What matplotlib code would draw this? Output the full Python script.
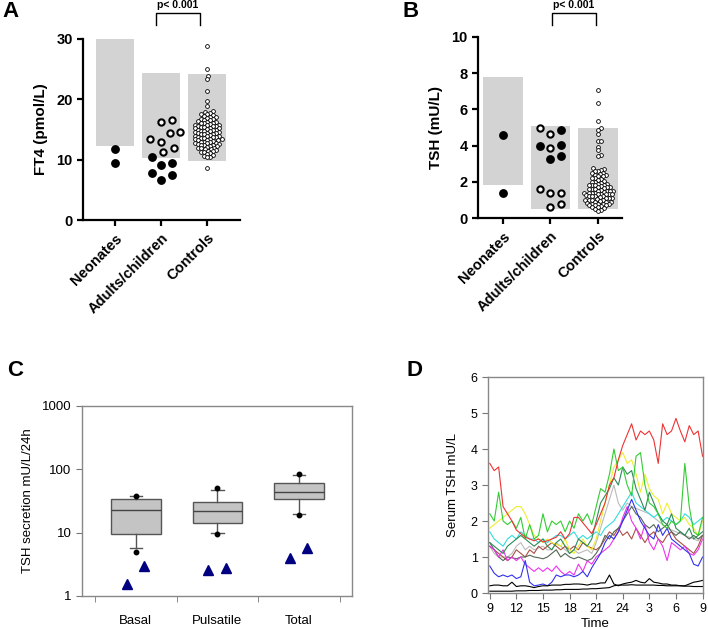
import numpy as np
import matplotlib
matplotlib.use("Agg")
import matplotlib.pyplot as plt
from matplotlib.lines import Line2D

plt.rcParams['font.family'] = ['Liberation Sans', 'DejaVu Sans']

W, H = 708, 629

# ---------------- data ----------------
groups = ["Neonates", "Adults/children", "Controls"]

# Panel A : FT4 (pmol/L)
ft4_ref_low = [12.3, 10.2, 9.8]
ft4_ref_high = [30.0, 24.4, 24.2]
ft4_neonates_filled = [11.7, 9.4]
ft4_adults_filled = [10.4, 9.4, 9.1, 7.8, 7.5, 6.6]
ft4_adults_open = [16.3, 16.6, 14.4, 13.0, 13.4, 14.6, 11.2, 12.0]
ft4_controls = [28.9, 25.0, 23.8, 23.3, 21.3, 19.7, 18.9, 18.1, 17.9, 17.8,
                17.6, 17.5, 17.4, 17.2, 17.1, 17.0, 16.9, 16.8, 16.7, 16.6,
                16.5, 16.4, 16.3, 16.2, 16.1, 16.0, 16.0, 15.9, 15.8, 15.8,
                15.7, 15.6, 15.6, 15.5, 15.4, 15.4, 15.3, 15.2, 15.2, 15.1,
                15.0, 15.0, 14.9, 14.8, 14.8, 14.7, 14.6, 14.6, 14.5, 14.4,
                14.4, 14.3, 14.2, 14.2, 14.1, 14.0, 14.0, 13.9, 13.8, 13.8,
                13.7, 13.6, 13.6, 13.5, 13.4, 13.4, 13.3, 13.2, 13.2, 13.1,
                13.0, 13.0, 12.9, 12.8, 12.8, 12.7, 12.6, 12.6, 12.5, 12.4,
                12.4, 12.3, 12.2, 12.1, 12.0, 12.0, 11.9, 11.8, 11.7, 11.6,
                11.5, 11.4, 11.3, 11.2, 11.1, 11.0, 10.8, 10.6, 10.5, 10.4, 8.7]

# Panel B : TSH (mU/L)
tsh_ref_low = [1.8, 0.5, 0.5]
tsh_ref_high = [7.8, 5.1, 5.0]
tsh_neonates_filled = [4.6, 1.4]
tsh_adults_filled = [4.85, 4.05, 4.0, 3.45, 3.25]
tsh_adults_open = [4.95, 4.64, 3.85, 1.4, 1.4, 1.6, 0.6, 0.8]
tsh_controls = [7.05, 6.35, 5.35, 4.95, 4.85, 4.65, 4.25, 4.25, 3.95, 3.75,
                3.5, 3.45, 2.75, 2.7, 2.65, 2.6, 2.6, 2.5, 2.5, 2.45,
                2.4, 2.35, 2.3, 2.3, 2.2, 2.2, 2.15, 2.1, 2.05, 2.0,
                2.0, 1.95, 1.9, 1.9, 1.85, 1.8, 1.8, 1.8, 1.75, 1.7,
                1.7, 1.7, 1.65, 1.6, 1.6, 1.6, 1.55, 1.5, 1.5, 1.5,
                1.5, 1.45, 1.4, 1.4, 1.4, 1.4, 1.35, 1.3, 1.3, 1.3,
                1.3, 1.25, 1.2, 1.2, 1.2, 1.2, 1.15, 1.1, 1.1, 1.1,
                1.05, 1.0, 1.0, 1.0, 1.0, 0.95, 0.9, 0.9, 0.9, 0.85,
                0.8, 0.8, 0.8, 0.75, 0.7, 0.7, 0.7, 0.65, 0.6, 0.6,
                0.55, 0.5, 0.45, 0.4]

# Panel C : TSH secretion (box stats of controls + two patients)
c_labels = ["Basal", "Pulsatile", "Total"]
c_med = [23.1, 22.3, 44.4]
c_q1 = [9.4, 14.4, 33.6]
c_q3 = [34.4, 30.9, 61.6]
c_wlo = [5.7, 9.9, 19.7]
c_whi = [37.5, 47.7, 82.4]
c_p95 = [37.5, 50.7, 85.5]
c_p5 = [4.95, 9.5, 19.2]
c_patient1 = [1.53, 2.6, 4.03]
c_patient2 = [3.0, 2.8, 5.8]

# Panel D : 24h TSH profiles (every 30 min from 09:00 to 09:00)
d_tick_labels = ['9', '12', '15', '18', '21', '24', '3', '6', '9']
d_red = [3.6, 3.4, 3.5, 2.4, 2.2, 2.0, 1.75, 1.65, 1.55, 1.5,
         1.45, 1.5, 1.42, 1.45, 1.5, 1.55, 1.7, 1.5, 1.65, 2.1,
         2.1, 1.95, 1.8, 1.65, 1.9, 2.2, 2.5, 3.0, 3.2, 3.7,
         4.1, 4.4, 4.7, 4.25, 4.5, 4.4, 4.5, 4.25, 3.6, 4.7,
         4.4, 4.5, 4.85, 4.5, 4.2, 4.65, 4.4, 4.5, 3.8]
d_green = [2.2, 2.0, 2.8, 2.0, 1.9, 2.0, 1.8, 2.1, 1.5, 1.9,
           1.5, 1.6, 2.2, 1.7, 2.0, 1.9, 2.0, 1.7, 2.0, 1.8,
           2.2, 2.0, 2.2, 1.9, 2.4, 2.9, 2.8, 3.3, 4.0, 3.4,
           3.5, 3.0, 2.7, 3.8, 3.9, 3.0, 2.5, 2.4, 2.2, 1.9,
           1.8, 2.0, 1.9, 2.0, 3.6, 2.4, 1.7, 1.6, 2.1]
d_yellow = [1.8, 1.9, 2.0, 2.1, 2.2, 2.3, 2.4, 2.4, 2.2, 1.9,
            1.6, 1.5, 1.4, 1.5, 1.4, 1.35, 1.3, 1.5, 1.2, 1.1,
            1.3, 1.5, 1.3, 1.2, 1.5, 2.0, 2.5, 3.0, 3.5, 3.7,
            3.9, 3.6, 3.7, 3.3, 2.8, 3.3, 2.9, 2.7, 2.6, 2.2,
            2.5, 2.2, 2.1, 2.0, 2.1, 1.9, 1.8, 1.6, 2.0]
d_darkgreen = [1.4, 1.3, 1.2, 1.1, 1.3, 1.4, 1.5, 1.6, 1.5, 1.4,
               1.3, 1.4, 1.5, 1.3, 1.2, 1.4, 1.5, 1.3, 1.1, 1.2,
               1.5, 1.4, 1.3, 1.5, 2.0, 2.5, 2.7, 2.9, 3.2, 3.0,
               3.5, 3.3, 3.4, 2.9, 2.6, 2.3, 2.8, 2.5, 2.2, 2.0,
               1.9, 2.2, 1.8, 1.7, 1.6, 1.8, 1.5, 1.6, 1.7]
d_cyan = [1.7, 1.5, 1.4, 1.3, 1.5, 1.6, 1.5, 1.7, 1.6, 1.5,
          1.5, 1.4, 1.5, 1.4, 1.5, 1.6, 1.6, 1.5, 1.6, 1.7,
          1.5, 1.6, 1.5, 1.6, 1.7, 1.6, 1.8, 1.9, 2.0, 2.2,
          2.4, 2.6, 2.8, 2.5, 2.4, 2.3, 2.2, 2.1, 2.2, 2.0,
          2.1, 2.0, 1.9, 2.0, 2.2, 2.1, 1.9, 2.0, 2.1]
d_silver = [1.3, 1.1, 1.0, 1.0, 1.0, 1.1, 1.3, 1.4, 1.2, 1.3,
            1.2, 1.25, 1.3, 1.2, 1.2, 1.4, 1.3, 1.2, 1.1, 1.2,
            1.1, 1.15, 1.2, 1.1, 1.4, 1.8, 2.2, 2.6, 3.0, 2.5,
            2.3, 2.5, 2.4, 2.35, 2.3, 2.25, 2.2, 2.1, 2.0, 1.9,
            1.8, 1.75, 1.7, 1.65, 1.6, 1.55, 1.5, 1.45, 1.6]
d_brown = [1.3, 1.2, 1.1, 1.0, 0.9, 1.0, 1.2, 1.1, 1.0, 1.2,
           1.1, 1.3, 1.2, 1.3, 1.4, 1.3, 1.2, 1.3, 1.2, 1.3,
           1.2, 1.4, 1.3, 1.25, 1.2, 1.3, 1.5, 1.7, 1.6, 1.8,
           1.6, 1.7, 1.5, 1.8, 1.6, 1.4, 1.6, 1.7, 1.5, 1.4,
           1.6, 1.7, 1.5, 1.4, 1.3, 1.2, 1.1, 1.3, 1.6]
d_darkgray = [1.4, 1.2, 1.0, 0.9, 1.0, 0.98, 0.95, 1.0, 1.0, 1.05,
              1.0, 0.98, 0.95, 1.0, 1.1, 1.2, 1.0, 1.1, 1.0, 0.95,
              1.0, 0.95, 0.9, 0.95, 1.1, 1.3, 1.6, 1.5, 1.7, 1.8,
              2.0, 2.2, 2.4, 2.2, 2.1, 1.9, 1.8, 1.9, 1.7, 1.8,
              1.9, 1.7, 1.6, 1.7, 1.6, 1.5, 1.6, 1.5, 1.6]
d_magenta = [1.3, 1.2, 1.0, 1.2, 0.9, 1.0, 0.9, 1.0, 0.8, 0.7,
             0.6, 0.7, 0.6, 0.7, 0.6, 0.75, 0.6, 0.5, 0.6, 0.5,
             0.8, 0.6, 0.9, 0.8, 1.0, 1.1, 1.2, 1.3, 1.5, 1.7,
             2.1, 2.4, 2.0, 1.8, 1.5, 1.9, 1.4, 1.2, 1.5, 1.3,
             0.9, 1.4, 1.3, 1.2, 1.3, 1.1, 1.05, 1.2, 1.5]
d_blue = [0.75, 0.55, 0.45, 0.5, 0.45, 0.5, 0.4, 0.45, 0.9, 0.3,
          0.2, 0.22, 0.25, 0.2, 0.3, 0.5, 0.45, 0.5, 0.5, 0.45,
          0.5, 0.6, 0.45, 0.7, 0.9, 1.1, 1.4, 1.6, 1.5, 1.7,
          2.0, 2.3, 2.6, 2.3, 2.0, 1.8, 1.6, 1.5, 1.9, 1.6,
          1.8, 1.5, 1.4, 1.3, 1.2, 1.1, 0.8, 0.75, 1.0]
d_black1 = [0.2, 0.22, 0.22, 0.2, 0.2, 0.3, 0.18, 0.2, 0.2, 0.18,
            0.15, 0.18, 0.2, 0.2, 0.22, 0.22, 0.22, 0.24, 0.24, 0.25,
            0.25, 0.24, 0.22, 0.25, 0.25, 0.28, 0.28, 0.5, 0.25, 0.2,
            0.25, 0.28, 0.3, 0.35, 0.3, 0.28, 0.4, 0.3, 0.28, 0.25,
            0.25, 0.22, 0.22, 0.2, 0.2, 0.25, 0.3, 0.32, 0.35]
d_black2 = [0.05, 0.05, 0.05, 0.05, 0.05, 0.05, 0.06, 0.06, 0.06, 0.07,
            0.07, 0.07, 0.08, 0.08, 0.08, 0.09, 0.09, 0.1, 0.1, 0.1,
            0.1, 0.11, 0.11, 0.12, 0.12, 0.13, 0.14, 0.15, 0.2, 0.22,
            0.22, 0.22, 0.23, 0.22, 0.22, 0.22, 0.22, 0.22, 0.21, 0.21,
            0.2, 0.2, 0.2, 0.2, 0.19, 0.19, 0.18, 0.18, 0.18]

# ---------------- helpers ----------------
fig = plt.figure(figsize=(W / 100, H / 100), dpi=100)


def px_axes(left, top, right, bottom):
    return fig.add_axes([left / W, 1 - bottom / H, (right - left) / W, (bottom - top) / H])


def fx(x):
    return x / W


def fy(y):
    return 1 - y / H


def swarm(ax, xc, values, diam):
    """Beeswarm layout computed in display space; returns x data positions."""
    trans = ax.transData
    inv = trans.inverted()
    x0 = trans.transform((xc, 0))[0]
    ys = np.array([trans.transform((xc, v))[1] for v in values])
    order = np.argsort(ys)
    placed = []
    xs = np.zeros(len(values))
    step = diam * 0.2
    cands = [0.0]
    for k in range(1, 400):
        cands += [k * step, -k * step]
    for i in order:
        y = ys[i]
        for c in cands:
            ok = True
            for (px_, py_) in placed:
                if (c - px_) ** 2 + (y - py_) ** 2 < diam ** 2:
                    ok = False
                    break
            if ok:
                break
        xs[i] = c
        placed.append((c, y))
    return np.array([inv.transform((x0 + xs[i], ys[i]))[0] for i in range(len(values))])


def prism_axes(ax, ylim, yticks, ylabel, xlim):
    ax.set_xlim(*xlim)
    ax.set_ylim(*ylim)
    for s in ['top', 'right']:
        ax.spines[s].set_visible(False)
    for s in ['left', 'bottom']:
        ax.spines[s].set_linewidth(1.6)
    ax.set_yticks(yticks)
    ax.set_xticks(range(3))
    ax.set_xticklabels(groups, rotation=45, ha='right', rotation_mode='anchor',
                       fontsize=10, fontweight='bold')
    ax.tick_params(width=1.6, length=4, labelsize=10.5)
    ax.tick_params(axis='x', pad=4)
    for lab in ax.get_yticklabels():
        lab.set_fontweight('bold')
    ax.set_ylabel(ylabel, fontsize=11, fontweight='bold', labelpad=6)
    ax.patch.set_alpha(0)


def draw_group_panel(ax, low, high, neo_f, ad_f, ad_o, ctrl, big, small):
    ax.bar(range(3), np.array(high) - np.array(low), bottom=low, width=0.83,
           color='#D3D3D3', zorder=1)
    ms_big = big * 72 / 100
    ms_small = small * 72 / 100
    xn = swarm(ax, 0, neo_f, big)
    ax.plot(xn, neo_f, 'o', ms=ms_big, mfc='black', mec='black', zorder=3, clip_on=False)
    ad_all = list(ad_f) + list(ad_o)
    xa = swarm(ax, 1, ad_all, big * 1.45)
    nf = len(ad_f)
    ax.plot(xa[:nf], ad_f, 'o', ms=ms_big, mfc='black', mec='black', zorder=3, clip_on=False)
    ax.plot(xa[nf:], ad_o, 'o', ms=ms_big - 0.8, mfc='white', mec='black', mew=1.5,
            zorder=3, clip_on=False)
    xc = swarm(ax, 2, ctrl, small * 0.8)
    ax.plot(xc, ctrl, 'o', ms=ms_small, mfc='white', mec='black', mew=0.6,
            zorder=3, clip_on=False)


def bracket(x1, x2, ytop, ybot, tx, ty):
    fig.add_artist(Line2D([fx(x1), fx(x1), fx(x2), fx(x2)],
                          [fy(ybot), fy(ytop), fy(ytop), fy(ybot)],
                          color='black', lw=1.0))
    fig.text(fx(tx), fy(ty), 'p< 0.001', ha='center', va='center',
             fontsize=7.5, fontweight='bold')


# ---------------- Panel A ----------------
axA = px_axes(83, 39, 240, 220)
prism_axes(axA, (0, 30), [0, 10, 20, 30], 'FT4 (pmol/L)', (-0.70, 2.72))
draw_group_panel(axA, ft4_ref_low, ft4_ref_high, ft4_neonates_filled,
                 ft4_adults_filled, ft4_adults_open, ft4_controls, 7.4, 3.8)
bracket(156, 200, 13, 25, 178, 5)
fig.text(fx(2), fy(1), 'A', fontsize=16, fontweight='bold', va='top', ha='left')

# ---------------- Panel B ----------------
axB = px_axes(478, 37, 622, 218)
prism_axes(axB, (0, 10), [0, 2, 4, 6, 8, 10], 'TSH (mU/L)', (-0.53, 2.51))
draw_group_panel(axB, tsh_ref_low, tsh_ref_high, tsh_neonates_filled,
                 tsh_adults_filled, tsh_adults_open, tsh_controls, 7.4, 3.8)
bracket(552, 596, 13, 25, 574, 5)
fig.text(fx(403), fy(1), 'B', fontsize=16, fontweight='bold', va='top', ha='left')

# ---------------- Panel C ----------------
axC = px_axes(82, 406, 352, 596)
axC.set_yscale('log')
axC.set_ylim(1, 1000)
axC.set_xlim(0.34, 3.65)
stats = []
for i in range(3):
    stats.append(dict(med=c_med[i], q1=c_q1[i], q3=c_q3[i], whislo=c_wlo[i],
                      whishi=c_whi[i], fliers=[c_p95[i], c_p5[i]], label=c_labels[i]))
axC.bxp(stats, positions=[1, 2, 3], widths=0.61, capwidths=0.15, patch_artist=True,
        boxprops=dict(facecolor='#C4C4C4', edgecolor='#555555', linewidth=1.0),
        medianprops=dict(color='#444444', linewidth=1.0),
        whiskerprops=dict(color='#555555', linewidth=1.0),
        capprops=dict(color='#555555', linewidth=1.0),
        flierprops=dict(marker='o', markerfacecolor='black', markeredgecolor='black',
                        markersize=3.2))
pos = np.arange(1, 4)
axC.plot(pos - 0.11, c_patient1, '^', ms=6.5, color='#000080', clip_on=False)
axC.plot(pos + 0.10, c_patient2, '^', ms=6.5, color='#000080', clip_on=False)
axC.set_xticks([1, 2, 3])
axC.set_xticklabels(c_labels, fontsize=9.5)
axC.set_xticks([0.5, 1.5, 2.5, 3.5], minor=True)
axC.tick_params(axis='x', which='major', length=0, pad=14)
axC.tick_params(axis='x', which='minor', length=4, color='#777777')
axC.tick_params(axis='y', which='minor', length=0)
axC.tick_params(axis='y', which='major', length=4, color='#777777', labelsize=9.5)
axC.set_yticks([1, 10, 100, 1000])
axC.set_yticklabels(['1', '10', '100', '1000'])
axC.set_ylabel('TSH secretion mU/L/24h', fontsize=9.5, labelpad=6)
for s in axC.spines.values():
    s.set_color('#888888')
    s.set_linewidth(1.0)
fig.text(fx(7), fy(360), 'C', fontsize=16, fontweight='bold', va='top', ha='left')

# ---------------- Panel D ----------------
axD = px_axes(488, 377, 703, 593)
t = 9 + 0.5 * np.arange(len(d_red))
series = [(d_silver, '#BBBBBB'), (d_brown, '#AA5044'), (d_darkgray, '#556655'),
          (d_cyan, '#33DDDD'), (d_yellow, '#EEEE33'), (d_magenta, '#EE33EE'),
          (d_blue, '#3333EE'), (d_darkgreen, '#2E8B57'), (d_green, '#33CC33'),
          (d_red, '#EE3333'), (d_black1, 'black'), (d_black2, 'black')]
for vals, col in series:
    axD.plot(t, vals, color=col, lw=0.8)
axD.set_xlim(8.8, 33.05)
axD.set_ylim(0, 6)
axD.set_xticks(np.arange(9, 34, 3))
axD.set_xticklabels(d_tick_labels, fontsize=9)
axD.set_yticks(range(7))
axD.tick_params(axis='both', length=4, color='#777777', labelsize=9)
axD.set_xlabel('Time', fontsize=9.5, labelpad=2)
axD.set_ylabel('Serum TSH mU/L', fontsize=9.5, labelpad=8)
for s in axD.spines.values():
    s.set_color('#888888')
    s.set_linewidth(1.0)
fig.text(fx(406), fy(360), 'D', fontsize=16, fontweight='bold', va='top', ha='left')

fig.savefig('out.png', dpi=100)
